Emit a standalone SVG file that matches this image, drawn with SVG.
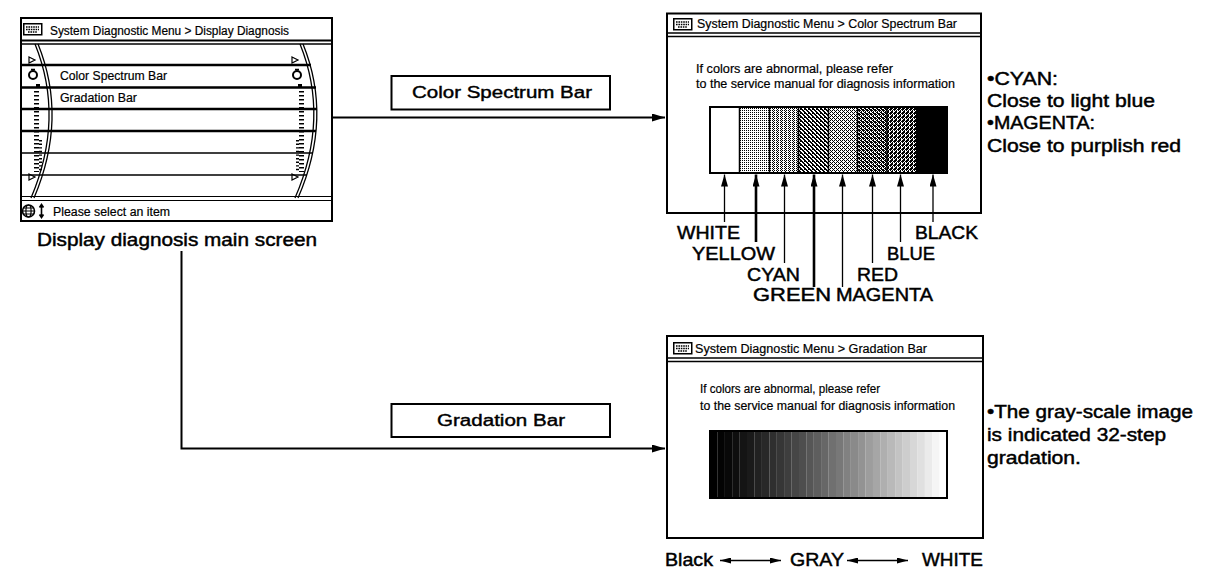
<svg xmlns="http://www.w3.org/2000/svg" width="1216" height="582" viewBox="0 0 1216 582">
<style>
text{font-family:"Liberation Sans",Arial,Helvetica,sans-serif;fill:#000;stroke:#000}
.s{font-size:12px;stroke-width:0.2}
.m{font-size:16px;stroke-width:0.4}
.l{font-size:17.5px;stroke-width:0.45}
.box{fill:#fff;stroke:#000;stroke-width:2}
.ln{stroke:#000;fill:none}
.con{stroke:#000;stroke-width:2;fill:none}
.lbl{stroke:#000;stroke-width:1.3;fill:none}
.lblb{stroke:#000;stroke-width:2.6;fill:none}
</style>
<defs>
<marker id="ah" viewBox="0 0 13 8" refX="13" refY="4" markerWidth="13" markerHeight="8" markerUnits="userSpaceOnUse" orient="auto"><path d="M0,0L13,4L0,8z" fill="#000"/></marker>
<marker id="au" viewBox="0 0 12 7" refX="12" refY="3.5" markerWidth="12" markerHeight="7" markerUnits="userSpaceOnUse" orient="auto"><path d="M0,0L12,3.5L0,7z" fill="#000"/></marker>
<marker id="as" viewBox="0 0 11 6" refX="11" refY="3" markerWidth="11" markerHeight="6" markerUnits="userSpaceOnUse" orient="auto-start-reverse"><path d="M0,0L11,3L0,6z" fill="#000"/></marker>
<pattern id="pY" width="2" height="2" patternUnits="userSpaceOnUse"><rect width="2" height="2" fill="#fff"/><rect width="1" height="1" fill="#000"/></pattern>
<pattern id="pC" width="4" height="2" patternUnits="userSpaceOnUse"><rect width="4" height="2" fill="#fff"/><path d="M0,0h1v1h-1zM2,0h1v1h-1zM1,1h1v1h-1z" fill="#000"/></pattern>
<pattern id="pG" width="4" height="4" patternUnits="userSpaceOnUse"><rect width="4" height="4" fill="#fff"/><path d="M0,0h2v1h-2zM1,1h2v1h-2zM2,2h2v1h-2zM3,3h1v1h-1zM0,3h1v1h-1zM0,1h1v1h-1z" fill="#000"/></pattern>
<pattern id="pM" width="4" height="4" patternUnits="userSpaceOnUse"><rect width="4" height="4" fill="#fff"/><path d="M0,0h1v1h-1zM1,1h1v1h-1zM2,2h1v1h-1zM3,3h1v1h-1zM2,0h1v1h-1zM0,2h1v1h-1z" fill="#000"/></pattern>
<pattern id="pR" width="4" height="4" patternUnits="userSpaceOnUse"><rect width="4" height="4" fill="#fff"/><path d="M0,0h2v1h-2zM2,1h2v1h-2zM0,2h1v1h-1zM2,2h2v1h-2zM1,3h1v1h-1zM3,3h1v1h-1zM1,1h1v1h-1z" fill="#000"/></pattern>
<pattern id="pB" width="4" height="4" patternUnits="userSpaceOnUse"><rect width="4" height="4" fill="#fff"/><path d="M2,0h2v1h-2zM0,0h1v1h-1zM1,1h2v1h-2zM0,2h1v1h-1zM2,2h1v1h-1zM0,3h1v1h-1zM3,3h1v1h-1zM3,1h1v1h-1z" fill="#000"/></pattern>
<g id="kbd"><rect x="0.75" y="0.75" width="18" height="11" fill="#fff" stroke="#000" stroke-width="1.5"/><path d="M3,4h13M3,6.5h13M5,9h9" stroke="#000" stroke-width="1.3" stroke-dasharray="1.6 0.8"/></g>
</defs>

<g id="connectors">
<path class="con" d="M332,117.5H665" marker-end="url(#ah)"/>
<path class="con" d="M181.5,251V448.5H665" marker-end="url(#ah)"/>
</g>

<g id="main-screen">
<rect class="box" x="21" y="18" width="311" height="203"/>
<use href="#kbd" x="23" y="23"/>
<text class="s" x="50" y="35" textLength="239" lengthAdjust="spacingAndGlyphs">System Diagnostic Menu &gt; Display Diagnosis</text>
<path class="ln" stroke-width="2" d="M21,40.5H332"/>
<path class="ln" stroke-width="1.5" d="M21,44H332"/>
<path class="ln" stroke-width="2.4" d="M20,65H311M20,87.5H316M21,109H317M21,131H316"/>
<path class="ln" stroke-width="1.6" d="M21,153H313M21,175H307"/>
<path class="ln" stroke-width="1.2" d="M21,196.5H332M21,200.5H332"/>
<path class="ln" stroke-width="1.3" d="M35,44Q65,118 31,198M38,44Q68,118 34,198"/>
<path class="ln" stroke-width="1.3" d="M300,44Q330,118 295,198M303,44Q333,118 298,198"/>
<path class="ln" stroke-width="1.2" d="M29,57l6,3l-6,3zM29,174l6,3l-6,3zM292,57l6,3l-6,3zM292,174l6,3l-6,3z"/>
<circle cx="33" cy="75" r="4" class="ln" stroke-width="2"/>
<circle cx="297" cy="75" r="4" class="ln" stroke-width="2"/>
<path class="ln" stroke-width="1.5" d="M31,69.5h4M295,69.5h4"/>
<path class="ln" stroke-width="4" d="M38,84v4M300,84v4"/>
<path class="ln" stroke-width="5" stroke-dasharray="1.4 2.6" d="M36.5,91V172M301.5,91V172"/>
<path class="ln" stroke-width="3" stroke-dasharray="1.4 2.2" d="M40.5,140V172M297.5,140V172"/>
<text class="s" x="60" y="80" textLength="107" lengthAdjust="spacingAndGlyphs">Color Spectrum Bar</text>
<text class="s" x="60" y="102" textLength="77" lengthAdjust="spacingAndGlyphs">Gradation Bar</text>
<circle cx="28.5" cy="211" r="6" class="ln" stroke-width="1.6"/>
<ellipse cx="28.5" cy="211" rx="2.6" ry="6" class="ln" stroke-width="1.2"/>
<path class="ln" stroke-width="1.2" d="M22.5,211h12M23.5,208h10M23.5,214h10"/>
<path class="ln" stroke-width="1.6" d="M41.5,205v12M39.5,207.5l2,-3l2,3M39.5,214.5l2,3l2,-3"/>
<text class="s" x="53" y="216" textLength="117" lengthAdjust="spacingAndGlyphs">Please select an item</text>
<text class="l" x="37" y="246" textLength="280" lengthAdjust="spacingAndGlyphs">Display diagnosis main screen</text>
</g>

<g id="btn-color">
<rect class="box" x="391.5" y="76" width="218.5" height="33.5" stroke-width="1.5"/>
<text class="m" x="412" y="98" textLength="180" lengthAdjust="spacingAndGlyphs">Color Spectrum Bar</text>
</g>

<g id="btn-gradation">
<rect class="box" x="391.5" y="404" width="218.5" height="33" stroke-width="1.5"/>
<text class="m" x="437" y="426" textLength="128" lengthAdjust="spacingAndGlyphs">Gradation Bar</text>
</g>

<g id="color-screen">
<rect class="box" x="667" y="13.5" width="314" height="199.5"/>
<use href="#kbd" x="673" y="18"/>
<text class="s" x="697" y="28" textLength="260" lengthAdjust="spacingAndGlyphs">System Diagnostic Menu &gt; Color Spectrum Bar</text>
<path class="ln" stroke-width="1.5" d="M667,33H981M667,36.5H981"/>
<text class="s" x="696" y="73" textLength="197" lengthAdjust="spacingAndGlyphs">If colors are abnormal, please refer</text>
<text class="s" x="696" y="88" textLength="259" lengthAdjust="spacingAndGlyphs">to the service manual for diagnosis information</text>
<rect x="710" y="107" width="29.5" height="66" fill="#fff"/>
<rect x="739.5" y="107" width="30" height="66" fill="url(#pY)"/>
<rect x="769.5" y="107" width="29" height="66" fill="url(#pC)"/>
<rect x="798.5" y="107" width="30" height="66" fill="url(#pG)"/>
<rect x="828.5" y="107" width="29" height="66" fill="url(#pM)"/>
<rect x="857.5" y="107" width="29.5" height="66" fill="url(#pR)"/>
<rect x="887" y="107" width="29" height="66" fill="url(#pB)"/>
<rect x="916" y="107" width="31" height="66" fill="#000"/>
<path class="ln" stroke-width="1.5" d="M739.5,107V173M769.5,107V173M798.5,107V173M828.5,107V173M857.5,107V173M887,107V173"/>
<rect x="710" y="107" width="237" height="66" fill="none" stroke="#000" stroke-width="2"/>
</g>

<g id="color-labels">
<path class="lbl" d="M724.5,222V174.5" marker-end="url(#au)"/>
<path class="lblb" d="M756,242V174.5" marker-end="url(#au)"/>
<path class="lbl" d="M784.5,263V174.5" marker-end="url(#au)"/>
<path class="lblb" d="M814,287V174.5" marker-end="url(#au)"/>
<path class="lbl" d="M842.5,287V174.5" marker-end="url(#au)"/>
<path class="lbl" d="M872.5,263V174.5" marker-end="url(#au)"/>
<path class="lbl" d="M900.5,242V174.5" marker-end="url(#au)"/>
<path class="lbl" d="M933,222V174.5" marker-end="url(#au)"/>
<text class="l" x="677" y="239" textLength="63" lengthAdjust="spacingAndGlyphs">WHITE</text>
<text class="l" x="692" y="260" textLength="83" lengthAdjust="spacingAndGlyphs">YELLOW</text>
<text class="l" x="747" y="281" textLength="53" lengthAdjust="spacingAndGlyphs">CYAN</text>
<text class="l" x="753" y="301" textLength="78" lengthAdjust="spacingAndGlyphs">GREEN</text>
<text class="l" x="836" y="301" textLength="97" lengthAdjust="spacingAndGlyphs">MAGENTA</text>
<text class="l" x="857" y="281" textLength="41" lengthAdjust="spacingAndGlyphs">RED</text>
<text class="l" x="887" y="260" textLength="48" lengthAdjust="spacingAndGlyphs">BLUE</text>
<text class="l" x="915" y="239" textLength="63" lengthAdjust="spacingAndGlyphs">BLACK</text>
</g>

<g id="color-notes">
<text class="l" x="987" y="85" textLength="71" lengthAdjust="spacingAndGlyphs">•CYAN:</text>
<text class="l" x="987" y="107" textLength="168" lengthAdjust="spacingAndGlyphs">Close to light blue</text>
<text class="l" x="987" y="129" textLength="108" lengthAdjust="spacingAndGlyphs">•MAGENTA:</text>
<text class="l" x="987" y="152" textLength="194" lengthAdjust="spacingAndGlyphs">Close to purplish red</text>
</g>

<g id="gradation-screen">
<rect class="box" x="667" y="336" width="316" height="202"/>
<use href="#kbd" x="673" y="342"/>
<text class="s" x="695" y="353" textLength="232" lengthAdjust="spacingAndGlyphs">System Diagnostic Menu &gt; Gradation Bar</text>
<path class="ln" stroke-width="1.5" d="M667,358H983M667,361.5H983"/>
<text class="s" x="700" y="393" textLength="180" lengthAdjust="spacingAndGlyphs">If colors are abnormal, please refer</text>
<text class="s" x="700" y="410" textLength="255" lengthAdjust="spacingAndGlyphs">to the service manual for diagnosis information</text>
<g id="steps">
<rect x="710" y="431" width="7.5" height="67" fill="#000"/>
<rect x="717.4" y="431" width="7.5" height="67" fill="#030303"/>
<rect x="724.8" y="431" width="7.5" height="67" fill="#080808"/>
<rect x="732.2" y="431" width="7.5" height="67" fill="#0e0e0e"/>
<rect x="739.6" y="431" width="7.5" height="67" fill="#141414"/>
<rect x="747" y="431" width="7.5" height="67" fill="#1a1a1a"/>
<rect x="754.4" y="431" width="7.5" height="67" fill="#212121"/>
<rect x="761.8" y="431" width="7.5" height="67" fill="#282828"/>
<rect x="769.3" y="431" width="7.5" height="67" fill="#2f2f2f"/>
<rect x="776.7" y="431" width="7.5" height="67" fill="#363636"/>
<rect x="784.1" y="431" width="7.5" height="67" fill="#3e3e3e"/>
<rect x="791.5" y="431" width="7.5" height="67" fill="#464646"/>
<rect x="798.9" y="431" width="7.5" height="67" fill="#4e4e4e"/>
<rect x="806.3" y="431" width="7.5" height="67" fill="#565656"/>
<rect x="813.7" y="431" width="7.5" height="67" fill="#5e5e5e"/>
<rect x="821.1" y="431" width="7.5" height="67" fill="#676767"/>
<rect x="828.5" y="431" width="7.5" height="67" fill="#707070"/>
<rect x="835.9" y="431" width="7.5" height="67" fill="#787878"/>
<rect x="843.3" y="431" width="7.5" height="67" fill="#818181"/>
<rect x="850.7" y="431" width="7.5" height="67" fill="#8a8a8a"/>
<rect x="858.1" y="431" width="7.5" height="67" fill="#939393"/>
<rect x="865.5" y="431" width="7.5" height="67" fill="#9d9d9d"/>
<rect x="872.9" y="431" width="7.5" height="67" fill="#a6a6a6"/>
<rect x="880.3" y="431" width="7.5" height="67" fill="#afafaf"/>
<rect x="887.8" y="431" width="7.5" height="67" fill="#b9b9b9"/>
<rect x="895.2" y="431" width="7.5" height="67" fill="#c3c3c3"/>
<rect x="902.6" y="431" width="7.5" height="67" fill="#cdcdcd"/>
<rect x="910" y="431" width="7.5" height="67" fill="#d7d7d7"/>
<rect x="917.4" y="431" width="7.5" height="67" fill="#e0e0e0"/>
<rect x="924.8" y="431" width="7.5" height="67" fill="#ebebeb"/>
<rect x="932.2" y="431" width="7.5" height="67" fill="#f5f5f5"/>
<rect x="939.6" y="431" width="7.4" height="67" fill="#fff"/>
</g>
<rect x="710" y="431" width="237" height="67" fill="none" stroke="#000" stroke-width="2"/>
<text class="l" x="665" y="566" textLength="48" lengthAdjust="spacingAndGlyphs">Black</text>
<path class="ln" stroke-width="1.5" d="M720,560.5H781" marker-start="url(#as)" marker-end="url(#as)"/>
<text class="l" x="790" y="566" textLength="54" lengthAdjust="spacingAndGlyphs">GRAY</text>
<path class="ln" stroke-width="1.5" d="M847,560.5H908" marker-start="url(#as)" marker-end="url(#as)"/>
<text class="l" x="922" y="566" textLength="61" lengthAdjust="spacingAndGlyphs">WHITE</text>
</g>

<g id="gradation-notes">
<text class="l" x="987" y="418" textLength="206" lengthAdjust="spacingAndGlyphs">•The gray-scale image</text>
<text class="l" x="987" y="441" textLength="179" lengthAdjust="spacingAndGlyphs">is indicated 32-step</text>
<text class="l" x="987" y="464" textLength="94" lengthAdjust="spacingAndGlyphs">gradation.</text>
</g>
</svg>
